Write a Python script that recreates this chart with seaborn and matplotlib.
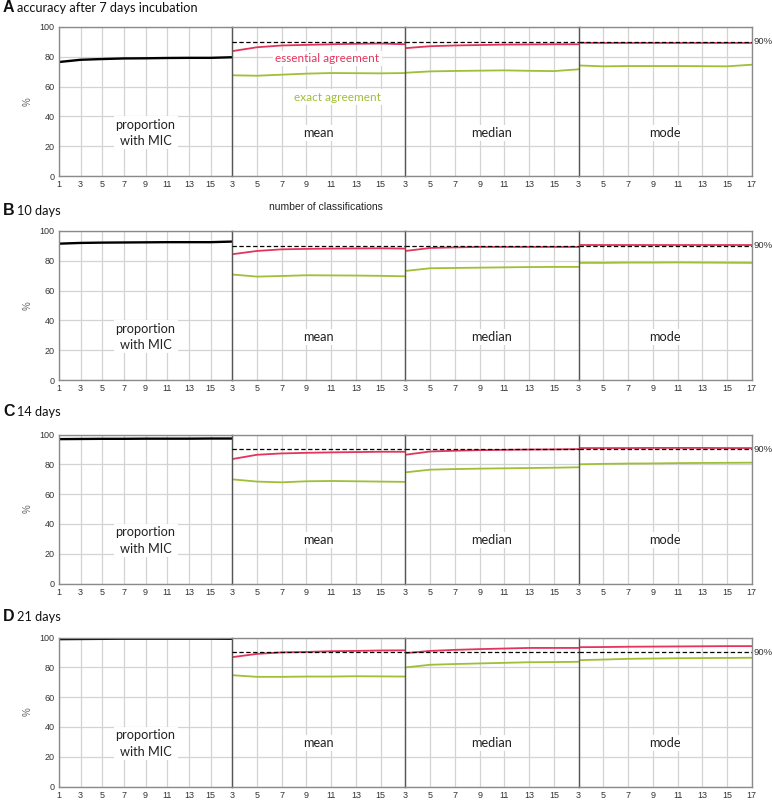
import numpy as np
import pandas as pd
import seaborn as sns
import matplotlib.pyplot as plt

# x values: number of classifications
x_prop = [1, 3, 5, 7, 9, 11, 13, 15, 17]
x_stat = [3, 5, 7, 9, 11, 13, 15, 17]
threshold = 90

# A: 7 days
prop_7 = [76.5, 78.0, 78.5, 78.9, 79.0, 79.2, 79.3, 79.3, 79.7]
ea_mean_7 = [83.8, 86.4, 87.6, 88.0, 88.4, 88.7, 88.9, 88.4]
exact_mean_7 = [67.6, 67.3, 68.0, 68.7, 69.1, 69.0, 68.9, 69.1]
ea_median_7 = [85.8, 87.1, 87.6, 87.9, 88.2, 88.3, 88.4, 88.4]
exact_median_7 = [69.3, 70.2, 70.5, 70.7, 70.9, 70.6, 70.4, 71.6]
ea_mode_7 = [89.4, 89.3, 89.3, 89.3, 89.3, 89.3, 89.3, 89.3]
exact_mode_7 = [74.2, 73.6, 73.8, 73.8, 73.8, 73.7, 73.6, 74.7]

# B: 10 days
prop_10 = [91.5, 92.0, 92.2, 92.3, 92.4, 92.5, 92.5, 92.5, 92.9]
ea_mean_10 = [84.4, 86.6, 87.7, 88.0, 88.2, 88.3, 88.4, 88.2]
exact_mean_10 = [70.8, 69.4, 69.8, 70.3, 70.2, 70.1, 69.9, 69.6]
ea_median_10 = [86.6, 88.6, 89.0, 89.3, 89.3, 89.3, 89.3, 89.3]
exact_median_10 = [73.2, 75.0, 75.2, 75.4, 75.6, 75.8, 75.9, 75.9]
ea_mode_10 = [90.4, 90.4, 90.4, 90.4, 90.4, 90.4, 90.4, 90.4]
exact_mode_10 = [78.6, 78.6, 78.8, 78.8, 78.9, 78.8, 78.7, 78.6]

# C: 14 days
prop_14 = [96.9, 97.0, 97.1, 97.1, 97.2, 97.2, 97.2, 97.3, 97.3]
ea_mean_14 = [83.5, 86.4, 87.3, 87.7, 88.0, 88.2, 88.4, 88.4]
exact_mean_14 = [69.9, 68.4, 67.9, 68.6, 68.8, 68.6, 68.4, 68.2]
ea_median_14 = [86.4, 88.6, 89.1, 89.5, 89.7, 89.9, 90.0, 90.2]
exact_median_14 = [74.6, 76.4, 76.8, 77.1, 77.3, 77.5, 77.7, 78.0]
ea_mode_14 = [90.9, 90.9, 90.9, 91.0, 91.0, 91.0, 90.9, 90.9]
exact_mode_14 = [80.0, 80.3, 80.5, 80.6, 80.8, 80.9, 81.0, 81.1]

# D: 21 days
prop_21 = [98.9, 99.0, 99.1, 99.2, 99.2, 99.2, 99.2, 99.2, 99.1]
ea_mean_21 = [86.8, 89.0, 90.0, 90.3, 90.8, 91.0, 91.3, 91.4]
exact_mean_21 = [74.7, 73.6, 73.6, 73.8, 73.8, 74.0, 73.9, 73.8]
ea_median_21 = [89.5, 91.0, 91.7, 92.2, 92.6, 93.0, 93.0, 93.0]
exact_median_21 = [79.9, 81.7, 82.2, 82.6, 83.0, 83.4, 83.5, 83.7]
ea_mode_21 = [93.5, 93.6, 93.8, 93.9, 94.0, 94.1, 94.2, 94.2]
exact_mode_21 = [84.8, 85.2, 85.7, 85.9, 86.1, 86.2, 86.3, 86.4]

rows = [
    ("A", "accuracy after 7 days incubation", prop_7,
     [(ea_mean_7, exact_mean_7), (ea_median_7, exact_median_7), (ea_mode_7, exact_mode_7)]),
    ("B", "10 days", prop_10,
     [(ea_mean_10, exact_mean_10), (ea_median_10, exact_median_10), (ea_mode_10, exact_mode_10)]),
    ("C", "14 days", prop_14,
     [(ea_mean_14, exact_mean_14), (ea_median_14, exact_median_14), (ea_mode_14, exact_mode_14)]),
    ("D", "21 days", prop_21,
     [(ea_mean_21, exact_mean_21), (ea_median_21, exact_median_21), (ea_mode_21, exact_mode_21)]),
]
panel_names = ["proportion\nwith MIC", "mean", "median", "mode"]

RED = "#e3345c"
GREEN = "#9fbf36"
GRID = "#d3d3d3"
FRAME = "#8a8a8a"
SEP = "#555555"
LABEL_FONT = ["Lato", "DejaVu Sans"]

sns.set_style("white")
plt.rcParams["font.family"] = ["Liberation Sans", "DejaVu Sans"]

fig = plt.figure(figsize=(7.72, 8), dpi=100)
W, H = 772, 800
left = 59 / W
pw = 173.2 / W
ph = 149 / H
bottoms = [1 - 176 / H, 1 - 380 / H, 1 - 583.5 / H, 1 - 786.5 / H]
title_base = [12.5, 215, 416, 621]

bbox = dict(facecolor="white", edgecolor="none", pad=1.5)

for r, (letter, title, prop, stats) in enumerate(rows):
    for p in range(4):
        ax = fig.add_axes([left + p * pw, bottoms[r], pw, ph])
        if p == 0:
            sns.lineplot(x=x_prop, y=prop, color="black", lw=1.7, ax=ax)
            ax.set_xlim(1, 17)
            xt = x_prop
        else:
            ea, ex = stats[p - 1]
            sns.lineplot(x=x_stat, y=ex, color=GREEN, lw=1.3, ax=ax)
            sns.lineplot(x=x_stat, y=ea, color=RED, lw=1.3, ax=ax)
            ax.axhline(threshold, color="black", lw=0.9, ls=(0, (3.5, 2)), zorder=3)
            ax.set_xlim(3, 17)
            xt = x_stat
        ax.set_ylim(0, 100)
        ax.set_xticks(xt)
        labels = [str(v) for v in xt]
        if p < 3:
            labels[-1] = ""
        ax.set_xticklabels(labels)
        ax.set_yticks([0, 20, 40, 60, 80, 100])
        ax.grid(True, color=GRID, lw=0.9)
        ax.set_axisbelow(True)
        ax.tick_params(axis="x", direction="out", length=2, width=0.8, color=FRAME,
                       labelsize=6.5, labelcolor="#333333", pad=1)
        ax.tick_params(axis="y", direction="inout", length=3.5, width=0.8, color=FRAME,
                       labelsize=6.5, labelcolor="#333333", pad=1.5, labelleft=(p == 0))
        ax.set_xlabel("")
        ax.set_ylabel("")
        for side in ["top", "bottom", "left", "right"]:
            ax.spines[side].set_color(FRAME)
            ax.spines[side].set_linewidth(1.0)
        ax.spines["right"].set_visible(p == 3)
        if p > 0:
            ax.spines["left"].set_color(SEP)
        if p == 0:
            ax.set_ylabel("%", fontsize=7, color="#666666", labelpad=5)
            ax.text(9, 29, panel_names[p], ha="center", va="center", fontsize=9.2,
                    family=LABEL_FONT, color="#222222", bbox=bbox, linespacing=1.45)
        else:
            ax.text(10, 29, panel_names[p], ha="center", va="center", fontsize=9.2,
                    family=LABEL_FONT, color="#222222", bbox=bbox)
        if p == 3:
            ax.text(1.012, threshold, "90%", transform=ax.get_yaxis_transform(),
                    ha="left", va="center", fontsize=6.8, color="#333333")
        if r == 0 and p == 1:
            ax.text(10.7, 78.7, "essential agreement", ha="center", va="center",
                    fontsize=8.5, family=LABEL_FONT, color=RED, bbox=bbox)
            ax.text(11.5, 53, "exact agreement", ha="center", va="center",
                    fontsize=8.5, family=LABEL_FONT, color=GREEN, bbox=bbox)

    y = 1 - title_base[r] / H
    fig.text(3 / W, y, letter, fontsize=11.5, fontweight="bold", va="baseline",
             family=["Liberation Sans", "DejaVu Sans"], color="#111111")
    fig.text(17 / W, y, title, fontsize=9.2, va="baseline", family=LABEL_FONT,
             color="#111111")

fig.text(326 / W, 1 - 210 / H, "number of classifications", ha="center",
         va="baseline", fontsize=7.5, color="#222222")

fig.savefig("out.png", dpi=100)
